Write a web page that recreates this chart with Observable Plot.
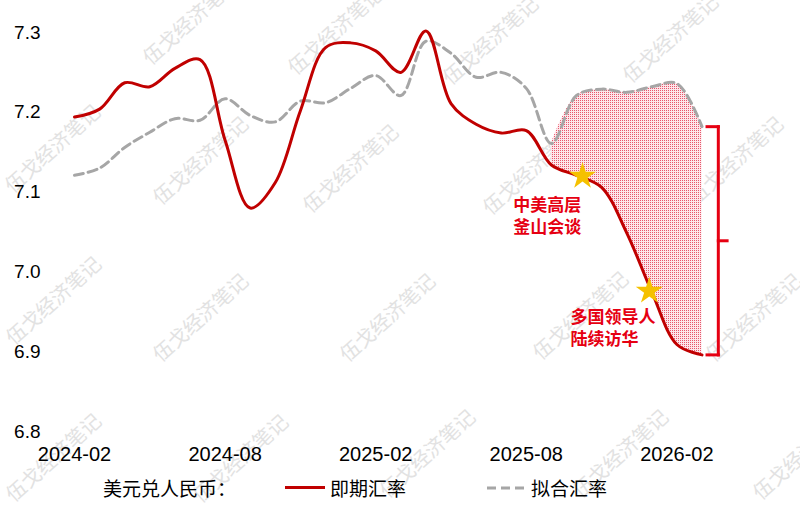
<!DOCTYPE html>
<html>
<head>
<meta charset="utf-8">
<script src="https://cdn.jsdelivr.net/npm/d3@7"></script>
<script src="https://cdn.jsdelivr.net/npm/@observablehq/plot@0.6"></script>
<style>
  html, body { margin: 0; padding: 0; background: #fff; }
  #wrap { position: relative; width: 800px; height: 506px; overflow: hidden; background: #fff; }
  #wm { position: absolute; left: 0; top: 0; width: 800px; height: 506px; z-index: 0; }
  #wm span { position: absolute; font-family: "Noto Sans CJK SC", sans-serif; font-size: 20px; color: #e2e2e2; white-space: nowrap; transform: translate(-50%, -50%) rotate(-42deg); line-height: 1; }
  #chart { position: absolute; left: 0; top: 0; z-index: 1; }
  #legend { position: absolute; left: 0; top: 0; width: 800px; height: 506px; z-index: 2; font-family: "Noto Sans CJK SC", sans-serif; font-size: 19px; color: #000; }
  #legend .t { position: absolute; top: 477px; line-height: 22px; white-space: nowrap; }
  #legend .sw { position: absolute; top: 486px; height: 3px; }
</style>
</head>
<body>
<div id="wrap">
  <div id="wm"></div>
  <div id="chart"></div>
  <div id="legend"></div>
</div>
<script>
// ---------- data ----------
const months = ["2024-02","2024-03","2024-04","2024-05","2024-06","2024-07","2024-08","2024-09","2024-10","2024-11","2024-12","2025-01","2025-02","2025-03","2025-04","2025-05","2025-06","2025-07","2025-08","2025-09","2025-10","2025-11","2025-12","2026-01","2026-02","2026-03"];
const spotRate = [7.194,7.204,7.237,7.232,7.255,7.266,7.165,7.080,7.112,7.202,7.281,7.287,7.277,7.250,7.302,7.211,7.185,7.174,7.177,7.134,7.121,7.106,7.049,6.975,6.909,6.896];
const fittedRate = [7.121,7.130,7.156,7.175,7.192,7.190,7.217,7.196,7.188,7.214,7.212,7.230,7.246,7.221,7.289,7.274,7.244,7.250,7.230,7.161,7.221,7.229,7.225,7.232,7.236,7.182];
const xTickLabels = ["2024-02","2024-08","2025-02","2025-08","2026-02"];
const yTicks = [6.8, 6.9, 7.0, 7.1, 7.2, 7.3];
const shadeStart = "2025-09";
// events: star position (month index, rate) and label position
const eventLabels = ["中美高层\n釜山会谈", "多国领导人\n陆续访华"];
const eventStarMonth = [20.24, 22.9];
const eventStarRate = [7.12, 6.976];
const eventTextMonth = [17.48, 19.76];
const eventTextRate = [7.071, 6.931];
const legendTitle = "美元兑人民币：";
const seriesNames = ["即期汇率", "拟合汇率"];
const watermark = "伍戈经济笔记";

// ---------- derived tables ----------
const rows = months.map((m, i) => ({i, m, spot: spotRate[i], fitted: fittedRate[i]}));
const shadeRows = rows.filter(d => d.i >= months.indexOf(shadeStart));
const events = eventLabels.map((label, k) => ({
  label, sx: eventStarMonth[k], sy: eventStarRate[k], tx: eventTextMonth[k], ty: eventTextRate[k]
}));
const last = rows[rows.length - 1];
const brX = last.i + 0.65, brHook = last.i + 0.2, brTick = last.i + 1.0;
const brTop = last.fitted, brBot = last.spot, brMid = (brTop + brBot) / 2;
const bracket = [
  {x1: brX, y1: brTop, x2: brX, y2: brBot},
  {x1: brHook, y1: brTop, x2: brX, y2: brTop},
  {x1: brHook, y1: brBot, x2: brX, y2: brBot},
  {x1: brX, y1: brMid, x2: brTick, y2: brMid}
];

const RED = "#c00000", GRAY = "#a6a6a6", ANN = "#e60012", GOLD = "#f5c100";

const defs = () => {
  const g = d3.create("svg:defs");
  const p = g.append("pattern").attr("id", "dots").attr("width", 2).attr("height", 2)
    .attr("patternUnits", "userSpaceOnUse");
  p.append("rect").attr("width", 2).attr("height", 2).attr("fill", "#fde6ea");
  p.append("rect").attr("width", 1).attr("height", 1).attr("fill", "#e8566b");
  return g.node();
};

const chart = Plot.plot({
  width: 800,
  height: 470,
  marginTop: 32,
  marginBottom: 39,
  marginLeft: 74,
  marginRight: 98.5,
  style: {background: "transparent", fontFamily: "'Liberation Sans', Arial, sans-serif", color: "#000", overflow: "visible"},
  x: {domain: [0, months.length - 1], axis: null},
  y: {domain: [6.8, 7.3], axis: null},
  marks: [
    defs,
    Plot.areaY(shadeRows, {x: "i", y1: "spot", y2: "fitted", curve: "catmull-rom", fill: "url(#dots)"}),
    Plot.line(rows, {x: "i", y: "fitted", stroke: GRAY, strokeWidth: 3, strokeDasharray: "9,5", curve: "catmull-rom"}),
    Plot.line(rows, {x: "i", y: "spot", stroke: RED, strokeWidth: 3, curve: "catmull-rom"}),
    Plot.link(bracket, {x1: "x1", y1: "y1", x2: "x2", y2: "y2", stroke: ANN, strokeWidth: 3, strokeLinecap: "square"}),
    Plot.dot(events, {x: "sx", y: "sy", symbol: "star", r: 8.5, fill: GOLD, stroke: null}),
    Plot.text(events, {x: "tx", y: "ty", text: "label", textAnchor: "start", lineHeight: 1.3, fill: ANN,
      fontSize: 17, fontWeight: "bold", fontFamily: "'Noto Sans CJK SC', sans-serif"}),
    Plot.axisX({ticks: xTickLabels.map(l => months.indexOf(l)), tickFormat: i => months[i],
      tickSize: 0, tickPadding: 15, fontSize: 20}),
    Plot.axisY({ticks: yTicks, tickFormat: d3.format(".1f"), tickSize: 0, tickPadding: 34, fontSize: 19})
  ]
});
document.getElementById("chart").appendChild(chart);

// ---------- legend (below the plot) ----------
const lg = document.getElementById("legend");
lg.innerHTML = `
  <span class="t" style="left:103px">${legendTitle}</span>
  <div class="sw" style="left:285px;width:40px;background:${RED}"></div>
  <span class="t" style="left:330px">${seriesNames[0]}</span>
  <svg class="sw" style="left:487px;width:40px;height:4px;top:485.5px" width="40" height="4">
    <line x1="0" x2="40" y1="2" y2="2" stroke="${GRAY}" stroke-width="3" stroke-dasharray="9,5"/>
  </svg>
  <span class="t" style="left:531px">${seriesNames[1]}</span>`;

// ---------- watermark ----------
const wmCenters = [
  [190,20],[335,30],[490,40],[670,38],
  [52,148],[200,160],[350,168],[530,170],[735,160],
  [53,300],[200,317],[387,317],[580,315],[753,317],
  [53,457],[240,458],[427,453],[620,453],[800,455]
];
const wm = document.getElementById("wm");
wmCenters.forEach(([x, y]) => {
  const s = document.createElement("span");
  s.textContent = watermark;
  s.style.left = x + "px";
  s.style.top = y + "px";
  wm.appendChild(s);
});
</script>
</body>
</html>
